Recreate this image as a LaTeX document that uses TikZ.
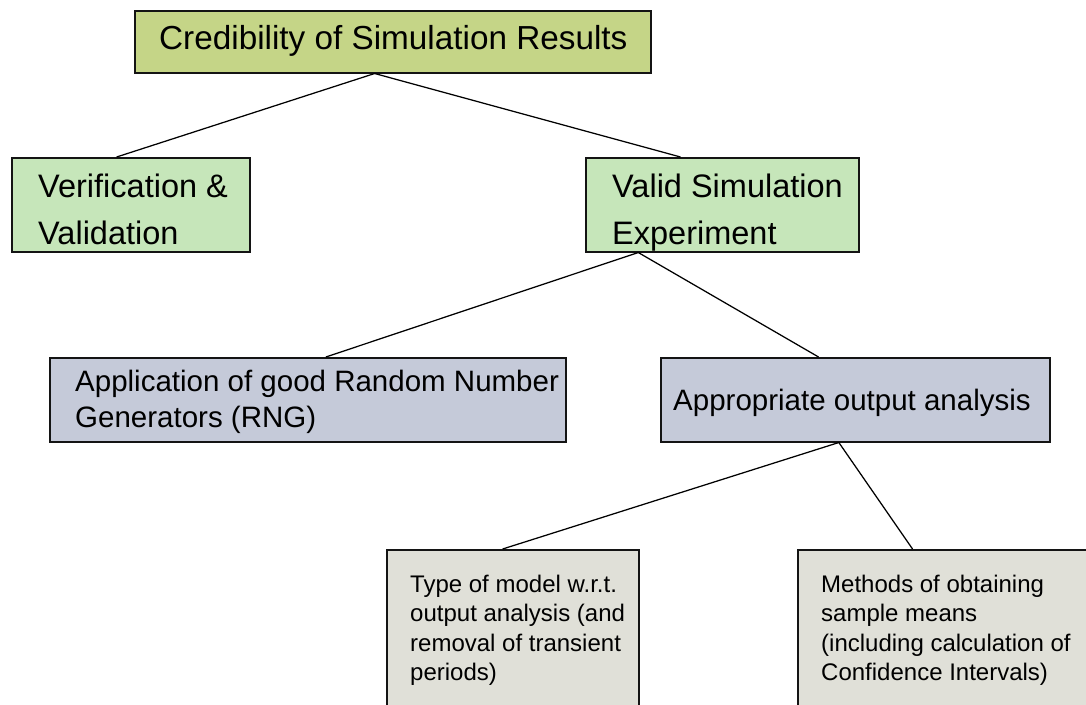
\documentclass[tikz,border=0pt]{standalone}
\usepackage{fontspec}
\setmainfont{Liberation Sans}
\usetikzlibrary{calc}

\definecolor{olivebox}{RGB}{197,213,135}
\definecolor{greenbox}{RGB}{198,230,186}
\definecolor{bluebox}{RGB}{197,202,217}
\definecolor{greybox}{RGB}{224,224,216}
\definecolor{edgecol}{RGB}{20,20,20}

\tikzset{
  box/.style={draw=edgecol, line width=1.5pt, rectangle, inner sep=0pt, anchor=north west},
  link/.style={draw=black, line width=1.25pt},
  txt/.style={anchor=base west, inner sep=0pt, text=black},
  lvlA/.style={txt, font=\fontsize{33.3}{40}\selectfont},
  lvlB/.style={txt, font=\fontsize{32.5}{47.5}\selectfont},
  lvlC/.style={txt, font=\fontsize{29.5}{36}\selectfont},
  lvlD/.style={txt, font=\fontsize{24}{29.5}\selectfont},
}

\begin{document}
\begin{tikzpicture}[x=1pt, y=-1pt]
\useasboundingbox (0,0) rectangle (1086,704);
\clip (0,0) rectangle (1086,704);

% boxes
\node[box, fill=olivebox, minimum width=516pt, minimum height=62pt] (cred) at (134,10) {};
\node[box, fill=greenbox, minimum width=238pt, minimum height=94pt] (vv) at (11,157) {};
\node[box, fill=greenbox, minimum width=273pt, minimum height=94pt] (vse) at (585,157) {};
\node[box, fill=bluebox, minimum width=516pt, minimum height=84pt] (rng) at (49,357) {};
\node[box, fill=bluebox, minimum width=389pt, minimum height=84pt] (aoa) at (660,357) {};
\node[box, fill=greybox, minimum width=252pt, minimum height=220pt] (tom) at (386,549) {};
\node[box, fill=greybox, minimum width=323pt, minimum height=220pt] (mos) at (797,549) {};

% connectors
\draw[link] ($(cred.south west)!0.465!(cred.south east)$) -- ($(vv.north west)!0.441!(vv.north east)$);
\draw[link] ($(cred.south west)!0.465!(cred.south east)$) -- ($(vse.north west)!0.348!(vse.north east)$);
\draw[link] ($(vse.south west)!0.194!(vse.south east)$) -- ($(rng.north west)!0.535!(rng.north east)$);
\draw[link] ($(vse.south west)!0.194!(vse.south east)$) -- ($(aoa.north west)!0.406!(aoa.north east)$);
\draw[link] ($(aoa.south west)!0.458!(aoa.south east)$) -- ($(tom.north west)!0.46!(tom.north east)$);
\draw[link] ($(aoa.south west)!0.458!(aoa.south east)$) -- ($(mos.north west)!0.356!(mos.north east)$);

% texts
\node[lvlA] (credtxt) at (159,49) {Credibility of Simulation Results};
\node[lvlB] (vvtxt) at (38,197) {\vtop{\hbox{Verification \&}\hbox{Validation}}};
\node[lvlB] (vsetxt) at (612,197) {\vtop{\hbox{Valid Simulation}\hbox{Experiment}}};
\node[lvlC] (rngtxt) at (75,391.5) {\vtop{\hbox{Application of good Random Number}\hbox{Generators (RNG)}}};
\node[lvlC] (aoatxt) at (673,410) {Appropriate output analysis};
\node[lvlD] (tomtxt) at (410,592) {\vtop{\hbox{Type of model w.r.t.}\hbox{output analysis (and}\hbox{removal of transient}\hbox{periods)}}};
\node[lvlD] (mostxt) at (821,592) {\vtop{\hbox{Methods of obtaining}\hbox{sample means}\hbox{(including calculation of}\hbox{Confidence Intervals)}}};
\end{tikzpicture}
\end{document}
